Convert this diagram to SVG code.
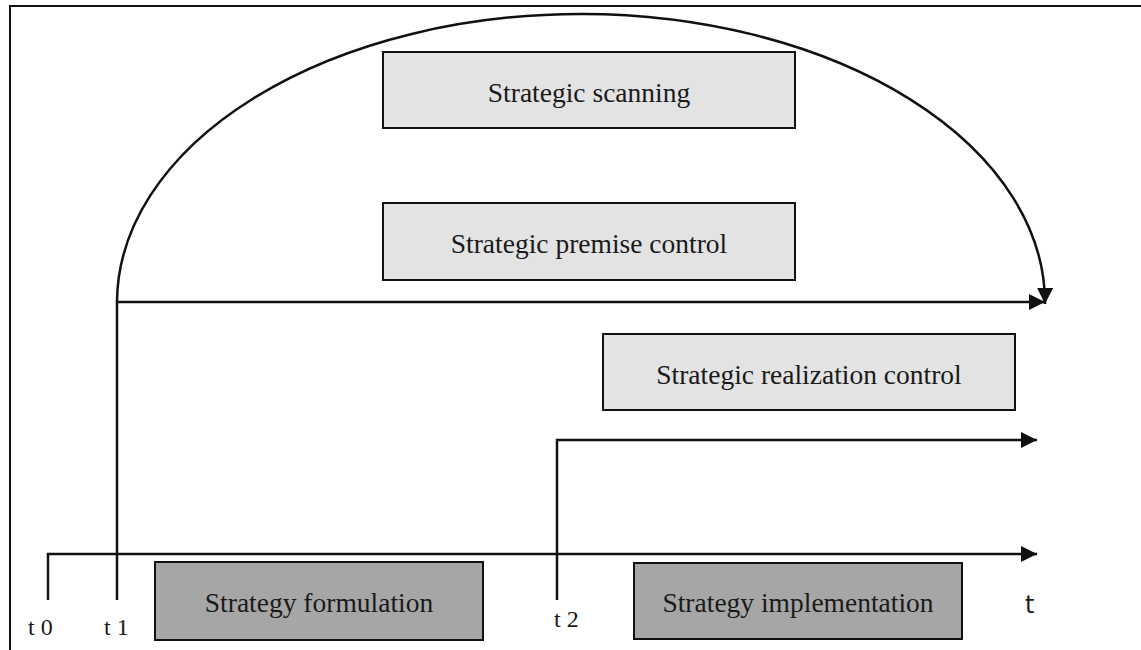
<svg xmlns="http://www.w3.org/2000/svg" width="1141" height="650" viewBox="0 0 1141 650">
  <style>
    .bg { fill: #ffffff; }
    .frame { fill: none; stroke: #111; stroke-width: 2; }
    .box-light { fill: #e3e3e3; stroke: #111; stroke-width: 2; }
    .box-dark { fill: #a6a6a6; stroke: #111; stroke-width: 2; }
    .label { font-family: "Liberation Serif", "Times New Roman", serif; font-size: 27.5px; fill: #1a1a1a; text-anchor: middle; dominant-baseline: central; }
    .tick { font-family: "Liberation Serif", "Times New Roman", serif; font-size: 24px; fill: #1a1a1a; }
    .axis { font-family: "DejaVu Sans", "Liberation Sans", sans-serif; font-size: 24px; fill: #1a1a1a; }
    .conn { fill: none; stroke: #111; stroke-width: 2.5; }
  </style>
  <defs>
    <marker id="arrow" markerUnits="userSpaceOnUse" viewBox="0 0 16 16" refX="16" refY="8" markerWidth="16" markerHeight="16" orient="auto">
      <path d="M0,0 L16,8 L0,16 z" fill="#111"/>
    </marker>
  </defs>

  <rect class="bg" x="0" y="0" width="1141" height="650"/>
  <!-- outer frame: top and left edges -->
  <path class="frame" d="M10,650 L10,6 L1141,6"/>

  <g id="connectors">
    <!-- main time axis -->
    <path class="conn" d="M48,600 L48,554 L1037,554" marker-end="url(#arrow)"/>
    <!-- t1 line up to premise level -->
    <path class="conn" d="M117,600 L117,302 L1045,302" marker-end="url(#arrow)"/>
    <!-- scanning arc from t1 over the top -->
    <path class="conn" d="M117,302 A464,289 0 0 1 1045,304" marker-end="url(#arrow)"/>
    <!-- t2 line for realization control -->
    <path class="conn" d="M557,600 L557,440 L1037,440" marker-end="url(#arrow)"/>
  </g>

  <g id="strategic-scanning">
    <rect class="box-light" x="383" y="52" width="412" height="76"/>
    <text class="label" x="589" y="92">Strategic scanning</text>
  </g>

  <g id="strategic-premise-control">
    <rect class="box-light" x="383" y="203" width="412" height="77"/>
    <text class="label" x="589" y="243">Strategic premise control</text>
  </g>

  <g id="strategic-realization-control">
    <rect class="box-light" x="603" y="334" width="412" height="76"/>
    <text class="label" x="809" y="374">Strategic realization control</text>
  </g>

  <g id="strategy-formulation">
    <rect class="box-dark" x="155" y="562" width="328" height="78"/>
    <text class="label" x="319" y="602">Strategy formulation</text>
  </g>

  <g id="strategy-implementation">
    <rect class="box-dark" x="634" y="563" width="328" height="76"/>
    <text class="label" x="798" y="602">Strategy implementation</text>
  </g>

  <g id="time-labels">
    <text class="tick" x="28" y="635">t 0</text>
    <text class="tick" x="104" y="635">t 1</text>
    <text class="tick" x="554" y="627">t 2</text>
    <text class="axis" x="1025" y="613">t</text>
  </g>
</svg>
